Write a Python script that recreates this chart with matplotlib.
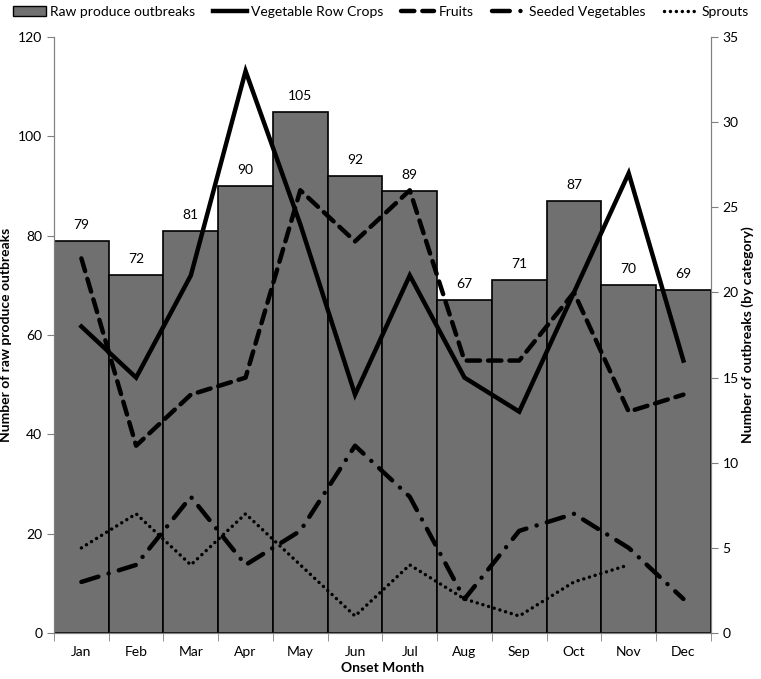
import numpy as np
import matplotlib.pyplot as plt
from matplotlib.patches import Patch
from matplotlib.lines import Line2D

plt.rcParams['font.family'] = ['Lato', 'DejaVu Sans']

months = ["Jan", "Feb", "Mar", "Apr", "May", "Jun", "Jul", "Aug", "Sep", "Oct", "Nov", "Dec"]
raw_produce = [79, 72, 81, 90, 105, 92, 89, 67, 71, 87, 70, 69]
veg_row_crops = [18, 15, 21, 33, 24, 14, 21, 15, 13, 20, 27, 16]
fruits = [22, 11, 14, 15, 26, 23, 26, 16, 16, 20, 13, 14]
seeded_veg = [3, 4, 8, 4, 6, 11, 8, 2, 6, 7, 5, 2]
sprouts = [5, 7, 4, 7, 4, 1, 4, 2, 1, 3, 4, np.nan]

x = np.arange(len(months))

fig = plt.figure(figsize=(7.61, 6.79), dpi=100)
ax = fig.add_axes([0.071, 0.0677, 0.863, 0.8778])
ax2 = ax.twinx()

bar_color = "#707070"
ax.bar(x, raw_produce, width=1.0, color=bar_color, edgecolor="black", linewidth=1.2, zorder=1)
for xi, v in zip(x, raw_produce):
    ax.text(xi, v + 2, str(v), ha="center", va="bottom", fontsize=10)

ax.set_xlim(-0.5, len(months) - 0.5)
ax.set_ylim(0, 120)
ax.set_yticks(np.arange(0, 121, 20))
ax.set_xticks(x)
ax.set_xticklabels(months, fontsize=10)
ax.set_xticks(np.arange(-0.5, len(months), 1), minor=True)
ax.tick_params(axis="x", which="major", length=0, pad=9)
ax.tick_params(axis="x", which="minor", length=6, color="#808080")
ax.tick_params(axis="y", labelsize=10, length=5, color="#808080")
ax.set_xlabel("Onset Month", fontsize=10, fontweight="bold", labelpad=3)
ax.set_ylabel("Number of raw produce outbreaks", fontsize=10, fontweight="bold")

lw = 3.2
dash_f = (0, (3, 1.8))
dash_s = (0, (4, 2.4, 0.01, 2.4))
dot_sp = (0, (0.01, 1.7))
ax2.plot(x, veg_row_crops, color="black", lw=lw, solid_joinstyle="miter")
ax2.plot(x, fruits, color="black", lw=lw, linestyle=dash_f, dash_capstyle="round")
ax2.plot(x, seeded_veg, color="black", lw=lw, linestyle=dash_s, dash_capstyle="round")
ax2.plot(x, sprouts, color="black", lw=2.5, linestyle=dot_sp, dash_capstyle="round")
ax2.set_ylim(0, 35)
ax2.set_yticks(np.arange(0, 36, 5))
ax2.tick_params(axis="y", labelsize=10, length=5, color="#808080")
ax2.set_ylabel("Number of outbreaks (by category)", fontsize=10, fontweight="bold", labelpad=2)

for a in (ax, ax2):
    a.spines["top"].set_visible(False)
    for s in ("left", "right", "bottom"):
        a.spines[s].set_color("#808080")

handles = [
    Patch(facecolor=bar_color, edgecolor="black", label="Raw produce outbreaks"),
    Line2D([], [], color="black", lw=lw, label="Vegetable Row Crops"),
    Line2D([], [], color="black", lw=lw, linestyle=dash_f, dash_capstyle="round", label="Fruits"),
    Line2D([], [], color="black", lw=lw, linestyle=dash_s, dash_capstyle="round", label="Seeded Vegetables"),
    Line2D([], [], color="black", lw=2.5, linestyle=dot_sp, dash_capstyle="round", label="Sprouts"),
]
fig.legend(handles=handles, loc="upper center", ncol=5, frameon=False, fontsize=10,
           bbox_to_anchor=(0.5, 1.01), columnspacing=1.3, handlelength=2.4, handletextpad=0.3)

fig.savefig("out.png", dpi=100)
